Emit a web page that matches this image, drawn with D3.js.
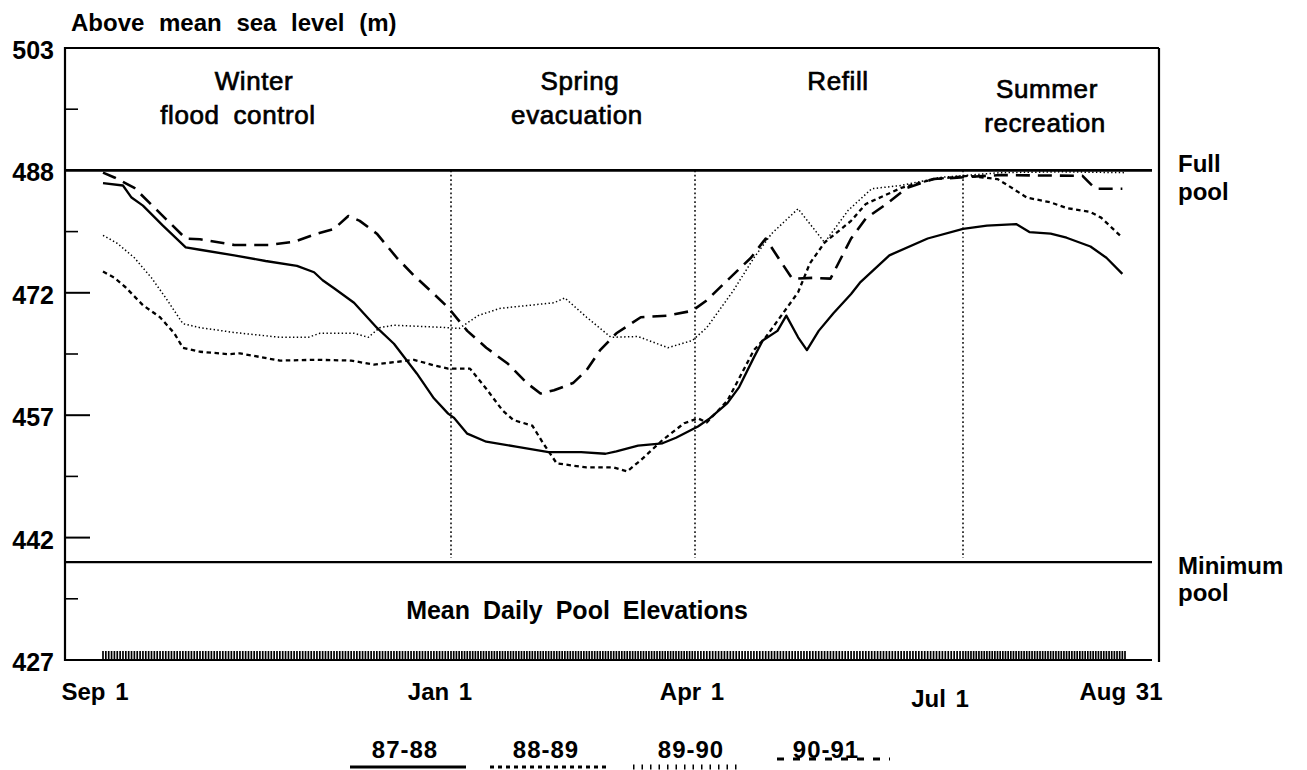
<!DOCTYPE html>
<html><head><meta charset="utf-8">
<script src="https://cdn.jsdelivr.net/npm/d3@7"></script>
<style>
html,body{margin:0;padding:0;background:#fff;}
svg{display:block;font-family:"Liberation Sans",Arial,Helvetica,sans-serif;}
</style></head><body>
<svg id="chart" width="1307" height="770"></svg>
<script>
// ---------- DATA ----------
// y ticks are 50-ft steps shown in metres
const yTickFeet = [1650, 1600, 1550, 1500, 1450, 1400];
const yTickLabels = ["503", "488", "472", "457", "442", "427"];
const yMinorFeet = [1625, 1575, 1525, 1475, 1425];
const fullPoolFeet = 1600;
const minPoolFeet = 1440;

// days counted from Sep 1
const monthDays = [0, 122, 212, 303, 364];
const monthLabels = ["Sep 1", "Jan 1", "Apr 1", "Jul 1", "Aug 31"];
const dividerDays = [122, 212, 303];

const seasonNames = [["Winter", "flood control"], ["Spring", "evacuation"], ["Refill"], ["Summer", "recreation"]];
const seriesNames = ["87-88", "88-89", "89-90", "90-91"];

// [day since Sep 1, mean daily pool elevation (m)]
const wy8788 = [[0,486.1],[7,485.8],[10,484.3],[14,483.3],[21,480.8],[29,478.1],[34,477.8],[46,477.1],[57,476.4],[68,475.8],[74,475.0],[77,474.0],[81,473.0],[88,471.2],[96,468.1],[102,466.1],[110,462.4],[116,459.3],[121,457.4],[123,456.9],[128,454.9],[135,453.9],[146,453.3],[158,452.6],[170,452.6],[179,452.4],[183,452.7],[191,453.4],[200,453.7],[205,454.4],[213,455.8],[217,456.8],[223,458.7],[227,460.7],[232,464.4],[235,466.5],[240,467.7],[243,469.6],[247,466.9],[250,465.3],[254,467.7],[259,469.9],[265,472.3],[268,473.7],[278,477.1],[291,479.2],[303,480.4],[312,480.8],[323,481.0],[328,480.0],[336,479.8],[342,479.3],[351,478.2],[357,476.8],[363,474.8]];
const wy8889 = [[0,475.1],[4,474.3],[8,473.1],[14,470.9],[20,469.4],[25,467.4],[28,465.6],[34,465.1],[44,464.8],[48,464.9],[62,464.0],[75,464.1],[87,464.0],[95,463.5],[102,463.8],[109,464.1],[116,463.4],[121,463.0],[129,463.0],[135,460.5],[141,457.8],[145,456.6],[152,455.9],[156,453.7],[161,451.2],[172,450.7],[182,450.7],[187,450.2],[192,451.6],[200,454.1],[208,456.2],[213,456.8],[216,456.3],[223,459.0],[232,465.3],[236,466.9],[247,472.5],[251,476.1],[256,478.7],[265,481.4],[270,483.5],[282,485.5],[293,486.6],[305,487.0],[316,486.6],[320,485.8],[327,484.3],[336,483.7],[342,483.0],[351,482.5],[355,481.8],[363,479.3]];
const wy8990 = [[0,479.6],[5,478.6],[11,476.8],[17,474.3],[22,471.8],[28,468.6],[34,468.1],[46,467.5],[62,466.9],[72,466.9],[76,467.4],[88,467.4],[93,466.9],[97,468.1],[102,468.4],[121,468.1],[125,468.0],[132,469.6],[140,470.5],[160,471.2],[164,471.8],[172,469.4],[181,466.9],[191,467.0],[202,465.6],[211,466.5],[216,468.1],[225,472.7],[232,476.8],[238,479.8],[247,482.9],[256,478.7],[264,482.7],[272,485.4],[282,485.8],[295,486.8],[317,487.4],[340,487.5],[364,487.4]];
const wy9091 = [[0,487.4],[4,486.8],[11,485.5],[19,482.7],[29,479.2],[34,479.1],[46,478.4],[58,478.4],[67,478.8],[75,479.8],[81,480.4],[86,482.0],[90,481.4],[96,479.8],[103,476.8],[109,474.6],[116,472.3],[121,470.6],[128,467.7],[135,465.6],[143,463.6],[150,461.2],[155,459.9],[160,460.3],[167,461.2],[172,462.8],[177,465.3],[183,467.4],[192,469.4],[202,469.6],[211,470.2],[216,471.5],[223,474.0],[231,476.8],[236,479.2],[241,476.4],[245,474.2],[252,474.3],[258,474.2],[265,479.2],[270,481.7],[277,483.5],[284,485.5],[293,486.6],[317,487.1],[348,487.0],[351,486.0],[353,485.4],[363,485.4]];

// ---------- LAYOUT ----------
const FT = 0.3048;
const svg = d3.select("#chart");
const axisX = 65, rightX = 1159, topY = 48, botY = 660;

const x = d3.scaleLinear().domain(monthDays).range([103, 451, 695, 963, 1125]);
const y = d3.scaleLinear().domain([1400 * FT, 1650 * FT]).range([botY, topY]);

// frame
const frame = svg.append("g").attr("stroke", "#000").attr("fill", "none");
frame.append("line").attr("x1", axisX).attr("x2", axisX).attr("y1", topY - 1).attr("y2", botY + 1).attr("stroke-width", 2.2);
frame.append("line").attr("x1", axisX).attr("x2", rightX).attr("y1", topY).attr("y2", topY).attr("stroke-width", 2);
frame.append("line").attr("x1", axisX).attr("x2", 1152).attr("y1", botY).attr("y2", botY).attr("stroke-width", 2);
frame.append("line").attr("x1", rightX).attr("x2", rightX).attr("y1", topY).attr("y2", botY + 2).attr("stroke-width", 2.2);

// y ticks
frame.selectAll(".ytick").data(yTickFeet.slice(2, 5)).join("line")
  .attr("x1", axisX).attr("x2", axisX + 25)
  .attr("y1", d => y(d * FT)).attr("y2", d => y(d * FT)).attr("stroke-width", 2);
frame.selectAll(".ymin").data(yMinorFeet).join("line")
  .attr("x1", axisX).attr("x2", axisX + 13)
  .attr("y1", d => y(d * FT)).attr("y2", d => y(d * FT)).attr("stroke-width", 1.6);

svg.append("g").selectAll("text").data(yTickFeet).join("text")
  .attr("x", 54).attr("y", d => y(d * FT) + 11)
  .attr("text-anchor", "end").attr("font-size", 25).attr("font-weight", "bold")
  .text((d, i) => yTickLabels[i]);

// pool lines
frame.append("line").attr("x1", axisX).attr("x2", 1152)
  .attr("y1", y(fullPoolFeet * FT)).attr("y2", y(fullPoolFeet * FT)).attr("stroke-width", 2.6);
frame.append("line").attr("x1", axisX).attr("x2", 1152)
  .attr("y1", y(minPoolFeet * FT)).attr("y2", y(minPoolFeet * FT)).attr("stroke-width", 2.2);

// season dividers
frame.selectAll(".div").data(dividerDays).join("line")
  .attr("x1", d => x(d)).attr("x2", d => x(d))
  .attr("y1", y(fullPoolFeet * FT)).attr("y2", y(minPoolFeet * FT) - 4)
  .attr("stroke-width", 1.5).attr("stroke-dasharray", "1.8,2.6");

// rug of daily ticks
svg.append("g").attr("stroke", "#000").attr("stroke-width", 1.7)
  .selectAll("line").data(d3.range(0, 365)).join("line")
  .attr("x1", d => x(d)).attr("x2", d => x(d)).attr("y1", botY - 9).attr("y2", botY);

// series lines
const line = d3.line().x(d => x(d[0])).y(d => y(d[1]));
const seriesData = [wy8788, wy8889, wy8990, wy9091];
const seriesStyle = [
  {w: 2.3, dash: null},
  {w: 2.3, dash: "4.5,3.5"},
  {w: 1.5, dash: "1.4,2.4"},
  {w: 2.6, dash: "14,8"}
];
svg.append("g").selectAll("path").data(seriesData).join("path")
  .attr("d", line).attr("fill", "none").attr("stroke", "#000")
  .attr("stroke-width", (d, i) => seriesStyle[i].w)
  .attr("stroke-dasharray", (d, i) => seriesStyle[i].dash)
  .attr("stroke-linejoin", "round");

// title
svg.append("text").attr("x", 71).attr("y", 31).attr("font-size", 24).attr("font-weight", "bold")
  .style("word-spacing", "8px").text("Above mean sea level (m)");

// season labels
const seasonPos = [{cx: [254, 238], by: [90, 124]}, {cx: [580, 577], by: [90, 124]}, {cx: [838], by: [90]}, {cx: [1047, 1045], by: [98, 132]}];
seasonNames.forEach((lines, i) => {
  lines.forEach((t, j) => {
    svg.append("text").attr("x", seasonPos[i].cx[j]).attr("y", seasonPos[i].by[j])
      .attr("text-anchor", "middle").attr("font-size", 26)
      .attr("stroke", "#000").attr("stroke-width", 0.7)
      .style("letter-spacing", "0.6px").style("word-spacing", "6px").text(t);
  });
});

// right labels
[["Full", 172], ["pool", 200], ["Minimum", 574], ["pool", 601]].forEach(([t, by]) => {
  svg.append("text").attr("x", 1178).attr("y", by).attr("font-size", 24).attr("font-weight", "bold").text(t);
});

svg.append("text").attr("x", 577).attr("y", 619).attr("text-anchor", "middle")
  .attr("font-size", 25).attr("font-weight", "bold").style("word-spacing", "6px")
  .text("Mean Daily Pool Elevations");

// x labels
const labelShift = [[-8, 700], [-11, 700], [-3, 700], [-23, 707], [-4, 700]];
svg.append("g").selectAll("text").data(monthDays).join("text")
  .attr("x", (d, i) => x(d) + labelShift[i][0]).attr("y", (d, i) => labelShift[i][1])
  .attr("text-anchor", "middle").attr("font-size", 24).attr("font-weight", "bold")
  .style("word-spacing", "3px")
  .text((d, i) => monthLabels[i]);

// legend
const legendCx = [405, 546, 691, 826];
const legendLine = [[350, 466, 767], [490, 608, 767], [633, 737, 767], [777, 890, 759]];
const legendStyle = [
  {w: 3, dash: null},
  {w: 3, dash: "4,4"},
  {w: 5, dash: "1.5,7"},
  {w: 3, dash: "7,9"}
];
const lg = svg.append("g");
seriesNames.forEach((n, i) => {
  lg.append("line").attr("x1", legendLine[i][0]).attr("x2", legendLine[i][1])
    .attr("y1", legendLine[i][2]).attr("y2", legendLine[i][2])
    .attr("stroke", "#000").attr("stroke-width", legendStyle[i].w)
    .attr("stroke-dasharray", legendStyle[i].dash);
  lg.append("text").attr("x", legendCx[i]).attr("y", 758).attr("text-anchor", "middle")
    .attr("font-size", 24).attr("font-weight", "bold").style("letter-spacing", "1px").text(n);
});
</script>
</body></html>
